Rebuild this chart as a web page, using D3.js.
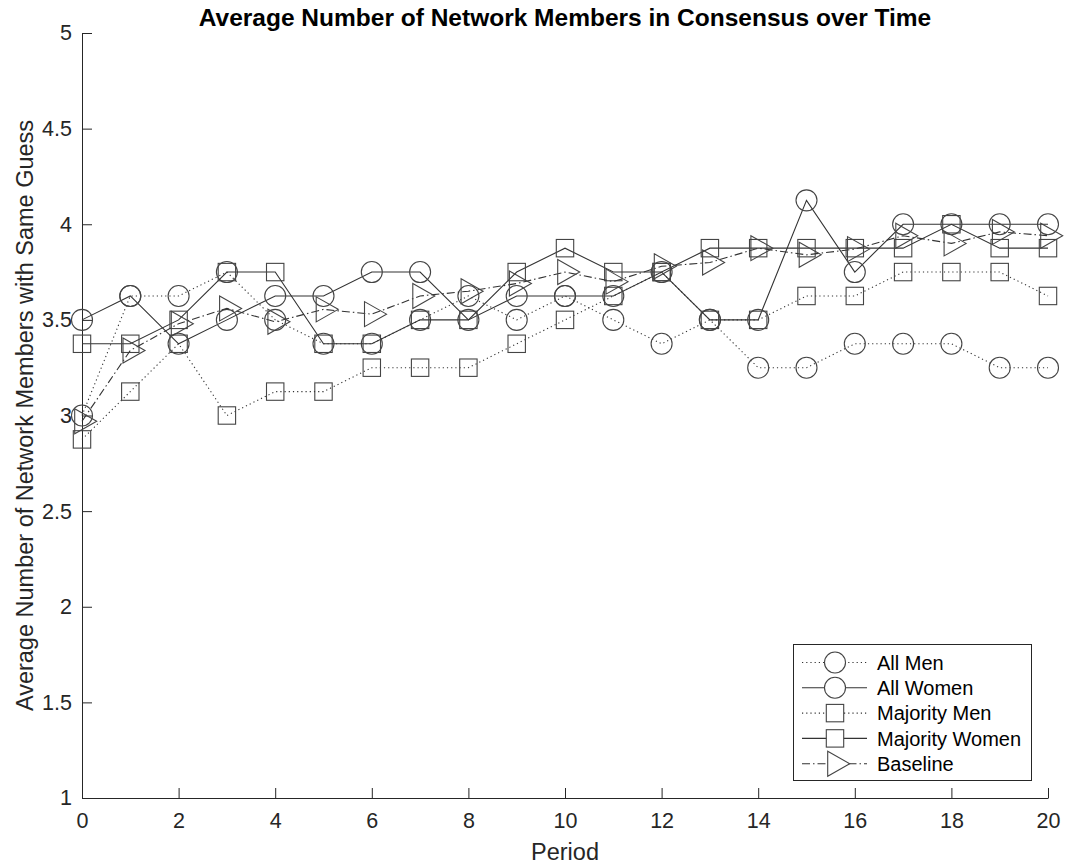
<!DOCTYPE html>
<html>
<head>
<meta charset="utf-8">
<script src="https://cdn.jsdelivr.net/npm/d3@7"></script>
<style>
  html, body { margin: 0; padding: 0; background: #fff; }
  svg { display: block; font-family: "Liberation Sans", Arial, Helvetica, sans-serif; }
</style>
</head>
<body>
<svg id="chart" width="1065" height="865"></svg>
<script>
// Periods on the x axis
const periods = [0, 1, 2, 3, 4, 5, 6, 7, 8, 9, 10, 11, 12, 13, 14, 15, 16, 17, 18, 19, 20];

// Average number of network members holding the same guess, per group
const allMen        = [3.0, 3.625, 3.625, 3.75, 3.5, 3.375, 3.375, 3.5, 3.625, 3.5, 3.625, 3.5, 3.375, 3.5, 3.25, 3.25, 3.375, 3.375, 3.375, 3.25, 3.25];
const allWomen      = [3.5, 3.625, 3.375, 3.5, 3.625, 3.625, 3.75, 3.75, 3.5, 3.625, 3.625, 3.625, 3.75, 3.5, 3.5, 4.125, 3.75, 4.0, 4.0, 4.0, 4.0];
const majorityMen   = [2.875, 3.125, 3.375, 3.0, 3.125, 3.125, 3.25, 3.25, 3.25, 3.375, 3.5, 3.625, 3.75, 3.5, 3.5, 3.625, 3.625, 3.75, 3.75, 3.75, 3.625];
const majorityWomen = [3.375, 3.375, 3.5, 3.75, 3.75, 3.375, 3.375, 3.5, 3.5, 3.75, 3.875, 3.75, 3.75, 3.875, 3.875, 3.875, 3.875, 3.875, 4.0, 3.875, 3.875];
const baseline      = [2.97, 3.34, 3.48, 3.56, 3.49, 3.555, 3.53, 3.625, 3.65, 3.69, 3.75, 3.70, 3.78, 3.80, 3.875, 3.84, 3.87, 3.94, 3.90, 3.96, 3.94];

// Tick labels
const xTicks = [0, 2, 4, 6, 8, 10, 12, 14, 16, 18, 20];
const yTicks = [1, 1.5, 2, 2.5, 3, 3.5, 4, 4.5, 5];

const seriesNames = ["All Men", "All Women", "Majority Men", "Majority Women", "Baseline"];

const series = [
  { name: seriesNames[0], values: allMen,        dash: "1.2,3",        marker: "circle" },
  { name: seriesNames[1], values: allWomen,      dash: null,           marker: "circle" },
  { name: seriesNames[2], values: majorityMen,   dash: "1.2,3",        marker: "square" },
  { name: seriesNames[3], values: majorityWomen, dash: null,           marker: "square" },
  { name: seriesNames[4], values: baseline,      dash: "8,3,1.5,3",    marker: "triangle" }
];

const ink = "#262626";
const lineInk = "#333";

const svg = d3.select("#chart");

const x = d3.scaleLinear().domain([0, 20]).range([82, 1048]);
const y = d3.scaleLinear().domain([1, 5]).range([798, 33]);

// Title
svg.append("text")
  .attr("x", 565).attr("y", 26)
  .attr("text-anchor", "middle")
  .attr("font-weight", "bold")
  .attr("font-size", 24.5)
  .attr("fill", "#000")
  .text("Average Number of Network Members in Consensus over Time");

// Axes (ticks point inward, no box)
const xAxis = d3.axisBottom(x).tickValues(xTicks).tickSizeInner(-10).tickSizeOuter(0).tickPadding(15)
  .tickFormat(d3.format("d"));
const yAxis = d3.axisLeft(y).tickValues(yTicks).tickSizeInner(-10).tickSizeOuter(0).tickPadding(10)
  .tickFormat(d => String(d));

const gx = svg.append("g").attr("transform", `translate(0,${y(1)})`).call(xAxis);
const gy = svg.append("g").attr("transform", `translate(${x(0)},0)`).call(yAxis);

[gx, gy].forEach(g => {
  g.select(".domain").attr("stroke", ink).attr("stroke-width", 1);
  g.selectAll(".tick line").attr("stroke", ink).attr("stroke-width", 1);
  g.selectAll(".tick text").attr("fill", ink).attr("font-size", 21.5)
    .attr("font-family", "\"Liberation Sans\", Arial, Helvetica, sans-serif");
});
gx.selectAll(".tick text").attr("dy", "0.7em");

// Axis labels
svg.append("text")
  .attr("x", 565).attr("y", 860)
  .attr("text-anchor", "middle")
  .attr("font-size", 23.5)
  .attr("fill", ink)
  .text("Period");

svg.append("text")
  .attr("transform", `translate(33,${(y(1) + y(5)) / 2}) rotate(-90)`)
  .attr("text-anchor", "middle")
  .attr("font-size", 23.5)
  .attr("fill", ink)
  .text("Average Number of Network Members with Same Guess");

// Marker shapes
function drawMarker(g, kind, cx, cy) {
  if (kind === "circle") {
    g.append("circle").attr("cx", cx).attr("cy", cy).attr("r", 10.5);
  } else if (kind === "square") {
    g.append("rect").attr("x", cx - 8.7).attr("y", cy - 8.7).attr("width", 17.4).attr("height", 17.4);
  } else {
    // right-pointing triangle centred on its centroid
    const pts = [[cx - 7.3, cy - 12.5], [cx + 14.7, cy], [cx - 7.3, cy + 12.5]];
    g.append("polygon").attr("points", pts.map(p => p.join(",")).join(" "));
  }
}

const line = d3.line().x((d, i) => x(periods[i])).y(d => y(d));

const plot = svg.append("g");
series.forEach(s => {
  const g = plot.append("g");
  g.append("path")
    .attr("d", line(s.values))
    .attr("fill", "none")
    .attr("stroke", lineInk)
    .attr("stroke-width", 1.1)
    .attr("stroke-dasharray", s.dash);
  const mg = g.append("g").attr("fill", "none").attr("stroke", "#444").attr("stroke-width", 1.1);
  s.values.forEach((v, i) => drawMarker(mg, s.marker, x(periods[i]), y(v)));
});

// Legend
const legend = svg.append("g");
legend.append("rect")
  .attr("x", 793.5).attr("y", 644.5).attr("width", 238).attr("height", 136)
  .attr("fill", "#fff").attr("stroke", ink).attr("stroke-width", 1);

series.forEach((s, i) => {
  const ry = 662.5 + i * 25.3;
  const g = legend.append("g");
  g.append("line")
    .attr("x1", 802).attr("x2", 867).attr("y1", ry).attr("y2", ry)
    .attr("stroke", lineInk).attr("stroke-width", 1.1)
    .attr("stroke-dasharray", s.dash);
  const mg = g.append("g").attr("fill", "#fff").attr("stroke", "#444").attr("stroke-width", 1.1);
  drawMarker(mg, s.marker, 835, ry);
  g.append("text")
    .attr("x", 877).attr("y", ry)
    .attr("dy", "0.36em")
    .attr("font-size", 20)
    .attr("fill", "#000")
    .text(s.name);
});
</script>
</body>
</html>
